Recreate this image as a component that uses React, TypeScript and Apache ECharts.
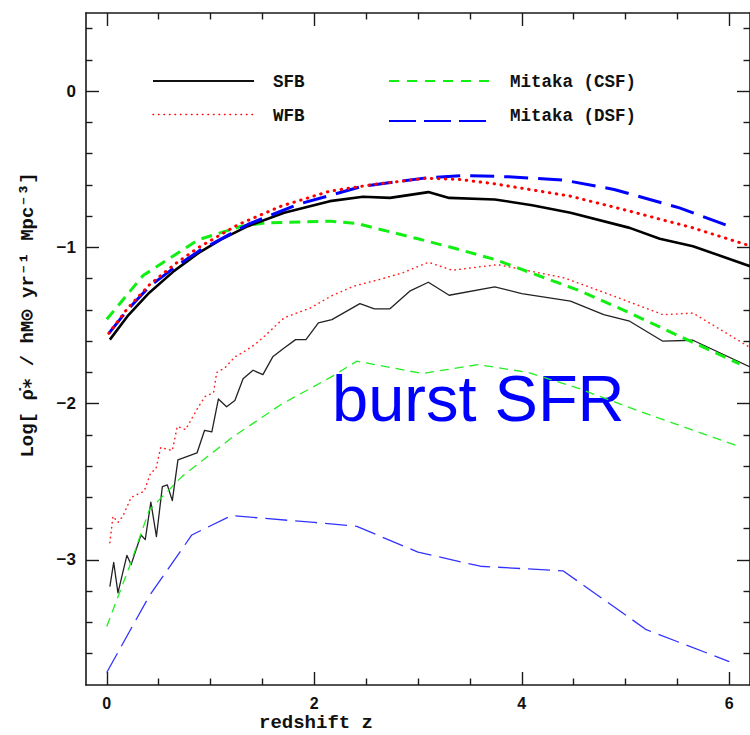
import React, { useEffect, useRef } from "react";
import * as echarts from "echarts";

// ---- tick values ----
const majorX = [0, 2, 4, 6];
const minorX = [0.5, 1, 1.5, 2.5, 3, 3.5, 4.5, 5, 5.5];
const majorY = [0, -1, -2, -3];
const minorY = [0.4, 0.2, -0.2, -0.4, -0.6, -0.8, -1.2, -1.4, -1.6, -1.8, -2.2, -2.4, -2.6, -2.8, -3.2, -3.4, -3.6];

// ---- total SFR (thick lines) ----
const sfbZ = [0.03, 0.2, 0.41, 0.65, 0.886, 1.1, 1.36, 1.71, 2.15, 2.47, 2.73, 3.1, 3.3, 3.74, 4.1, 4.47, 5.04, 5.33, 5.65, 6.2];
const sfbV = [-1.59, -1.44, -1.29, -1.15, -1.035, -0.95, -0.864, -0.778, -0.704, -0.676, -0.683, -0.646, -0.683, -0.693, -0.73, -0.778, -0.875, -0.945, -0.992, -1.12];

const wfbZ = [0.02, 0.2, 0.41, 0.65, 0.886, 1.27, 1.68, 2.15, 2.57, 3.08, 3.4, 3.74, 4.47, 5.04, 5.65, 6.2];
const wfbV = [-1.55, -1.39, -1.24, -1.11, -1.0, -0.853, -0.736, -0.64, -0.597, -0.557, -0.565, -0.593, -0.672, -0.768, -0.875, -0.99];

const dsfZ = [0.02, 0.2, 0.41, 0.65, 0.886, 1.36, 1.84, 2.47, 3.08, 3.46, 3.87, 4.41, 4.89, 5.52, 6.0];
const dsfV = [-1.55, -1.4, -1.25, -1.13, -1.024, -0.853, -0.725, -0.608, -0.555, -0.54, -0.548, -0.57, -0.629, -0.747, -0.864];

const csfZ = [0.0, 0.35, 0.886, 1.3, 1.52, 2.16, 2.41, 3.0, 3.3, 3.74, 4.09, 4.57, 5.04, 5.52, 6.1];
const csfV = [-1.46, -1.18, -0.95, -0.864, -0.843, -0.832, -0.847, -0.945, -0.996, -1.077, -1.163, -1.28, -1.419, -1.568, -1.745];

// ---- burst SFR (thin lines) ----
const sfbBurstZ = [0.03, 0.067, 0.108, 0.194, 0.235, 0.33, 0.371, 0.425, 0.479, 0.536, 0.584, 0.632, 0.686, 0.87, 0.943, 1.013, 1.076, 1.155, 1.235, 1.314, 1.41, 1.505, 1.6, 1.71, 1.82, 1.92, 2.04, 2.17, 2.44, 2.58, 2.73, 2.92, 3.1, 3.3, 3.74, 4.0, 4.47, 4.79, 5.04, 5.36, 5.65, 6.2];
const sfbBurstV = [-3.17, -3.015, -3.21, -2.97, -3.03, -2.84, -2.87, -2.63, -2.85, -2.53, -2.52, -2.62, -2.36, -2.315, -2.17, -2.18, -1.97, -2.02, -1.98, -1.84, -1.786, -1.814, -1.7, -1.643, -1.59, -1.59, -1.483, -1.462, -1.36, -1.393, -1.393, -1.28, -1.223, -1.306, -1.252, -1.295, -1.344, -1.43, -1.472, -1.6, -1.594, -1.765];

const wfbBurstZ = [0.03, 0.06, 0.108, 0.155, 0.235, 0.36, 0.425, 0.473, 0.52, 0.632, 0.68, 0.76, 0.886, 0.95, 1.029, 1.06, 1.14, 1.235, 1.33, 1.43, 1.52, 1.71, 1.965, 2.16, 2.38, 2.63, 2.85, 3.1, 3.33, 3.77, 4.41, 4.89, 5.36, 5.65, 6.2];
const wfbBurstV = [-2.89, -2.72, -2.76, -2.72, -2.6, -2.56, -2.44, -2.42, -2.28, -2.3, -2.145, -2.166, -2.017, -1.953, -1.93, -1.8, -1.77, -1.7, -1.665, -1.62, -1.568, -1.45, -1.387, -1.312, -1.248, -1.205, -1.163, -1.095, -1.146, -1.11, -1.195, -1.312, -1.43, -1.42, -1.64];

const csfBurstZ = [0.0, 0.22, 0.41, 0.727, 1.2, 1.68, 2.16, 2.41, 2.75, 3.04, 3.58, 4.06, 4.54, 5.14, 6.08];
const csfBurstV = [-3.425, -3.04, -2.68, -2.465, -2.22, -2.005, -1.83, -1.728, -1.77, -1.807, -1.75, -1.8, -1.9, -2.05, -2.27];

const dsfBurstZ = [0.0, 0.41, 0.82, 1.2, 2.0, 2.41, 3.0, 3.6, 4.4, 5.2, 6.0];
const dsfBurstV = [-3.72, -3.23, -2.84, -2.716, -2.76, -2.785, -2.95, -3.04, -3.07, -3.446, -3.65];

const legendNames = ["SFB", "WFB", "Mitaka (CSF)", "Mitaka (DSF)"];

const X_MIN = -0.2, X_MAX = 6.2, Y_MIN = -3.8, Y_MAX = 0.5;
const AXIS_COLOR = "#1a1a1a";
const MONO = "'Liberation Mono', 'DejaVu Sans Mono', monospace";

function line(name: string, zs: number[], vs: number[], color: string, width: number, dash: any, cap: string = "butt") {
  return {
    type: "line",
    name,
    data: zs.map((z, i) => [z, vs[i]]),
    showSymbol: false,
    symbol: "none",
    silent: true,
    xAxisIndex: 0,
    yAxisIndex: 0,
    lineStyle: { color, width, type: dash, cap, join: "round" },
  };
}

function xAx(position: string, ticks: number[], len: number, showLine: boolean, showLabel: boolean) {
  return {
    type: "value", min: X_MIN, max: X_MAX, position,
    axisLine: { show: showLine, onZero: false, lineStyle: { color: AXIS_COLOR, width: 1.6 } },
    axisTick: { show: true, inside: true, length: len, customValues: ticks, lineStyle: { color: AXIS_COLOR, width: 1.4 } },
    axisLabel: {
      show: showLabel, customValues: ticks, margin: 10,
      color: "#111", fontSize: 16, fontWeight: "bold", fontFamily: "'Liberation Sans', Arial, sans-serif",
    },
    splitLine: { show: false },
  };
}
function yAx(position: string, ticks: number[], len: number, showLine: boolean, showLabel: boolean) {
  return {
    type: "value", min: Y_MIN, max: Y_MAX, position,
    axisLine: { show: showLine, onZero: false, lineStyle: { color: AXIS_COLOR, width: 1.6 } },
    axisTick: { show: true, inside: true, length: len, customValues: ticks, lineStyle: { color: AXIS_COLOR, width: 1.4 } },
    axisLabel: {
      show: showLabel, customValues: ticks, margin: 10,
      color: "#111", fontSize: 17, fontWeight: "bold", fontFamily: "'Liberation Sans', Arial, sans-serif",
      formatter: (v: number) => (v === 0 ? "0" : "\u2212" + Math.abs(v)),
    },
    splitLine: { show: false },
  };
}

export default function App() {
  const ref = useRef<HTMLDivElement>(null);
  useEffect(() => {
    if (!ref.current) return;
    const chart = echarts.init(ref.current, null, { renderer: "svg" });
    chart.setOption({
      animation: false,
      backgroundColor: "#ffffff",
      grid: { left: 86, top: 13, right: -8, bottom: 50, containLabel: false },
      xAxis: [
        xAx("bottom", majorX, 13, true, true),
        xAx("bottom", minorX, 6.5, false, false),
        xAx("top", majorX, 13, true, false),
        xAx("top", minorX, 6.5, false, false),
      ],
      yAxis: [
        yAx("left", majorY, 13, true, true),
        yAx("left", minorY, 6.5, false, false),
        yAx("right", majorY, 13, true, false),
        yAx("right", minorY, 6.5, false, false),
      ],
      series: [
        line("SFB burst", sfbBurstZ, sfbBurstV, "#222222", 1.3, "solid"),
        line("WFB burst", wfbBurstZ, wfbBurstV, "#ff2020", 1.5, [0.5, 4.5], "round"),
        line("CSF burst", csfBurstZ, csfBurstV, "#22ee22", 1.3, [9, 6]),
        line("DSF burst", dsfBurstZ, dsfBurstV, "#3333ff", 1.3, [22, 8]),
        line(legendNames[2], csfZ, csfV, "#11ee11", 3, [11, 7]),
        line(legendNames[0], sfbZ, sfbV, "#000000", 2.6, "solid"),
        line(legendNames[3], dsfZ, dsfV, "#0000ff", 3, [24, 10]),
        line(legendNames[1], wfbZ, wfbV, "#ff0000", 3, [0.5, 6.5], "round"),
      ],
      graphic: [
        { type: "line", shape: { x1: 153, y1: 81, x2: 254, y2: 81 }, style: { stroke: "#111", lineWidth: 2 } },
        { type: "line", shape: { x1: 153, y1: 114.5, x2: 254, y2: 114.5 }, style: { stroke: "#ff0000", lineWidth: 1.5, lineDash: [0.5, 5], lineCap: "round" } },
        { type: "line", shape: { x1: 389, y1: 81, x2: 491, y2: 81 }, style: { stroke: "#11ee11", lineWidth: 2, lineDash: [10, 8] } },
        { type: "line", shape: { x1: 389, y1: 121, x2: 491, y2: 121 }, style: { stroke: "#0000ff", lineWidth: 2, lineDash: [27, 8] } },
        { type: "text", x: 273, y: 82, style: { text: legendNames[0], fill: "#111", font: `bold 17.5px ${MONO}`, verticalAlign: "middle" } },
        { type: "text", x: 273, y: 116, style: { text: legendNames[1], fill: "#111", font: `bold 17.5px ${MONO}`, verticalAlign: "middle" } },
        { type: "text", x: 510, y: 82, style: { text: legendNames[2], fill: "#111", font: `bold 17.5px ${MONO}`, verticalAlign: "middle" } },
        { type: "text", x: 510, y: 116, style: { text: legendNames[3], fill: "#111", font: `bold 17.5px ${MONO}`, verticalAlign: "middle" } },
        { type: "text", x: 332, y: 398, style: { text: "burst SFR", fill: "#0000ff", font: "65px 'Liberation Sans', Arial, sans-serif", verticalAlign: "middle" } },
        { type: "text", x: 316, y: 723, style: { text: "redshift z", fill: "#111", font: `bold 19px ${MONO}`, align: "center", verticalAlign: "middle" } },
        {
          type: "text", x: 28, y: 315, rotation: Math.PI / 2,
          style: { text: "Log[ \u03C1\u0307\u2217 / hM\u2299 yr\u207B\u00B9 Mpc\u207B\u00B3]", fill: "#111", font: `bold 19px ${MONO}`, align: "center", verticalAlign: "middle" },
        },
      ],
    });
    return () => chart.dispose();
  }, []);
  return (
    <div style={{ position: "absolute", left: 0, top: 0, width: 750, height: 735, overflow: "hidden", background: "#fff" }}>
      <div ref={ref} style={{ width: 750, height: 735 }} />
    </div>
  );
}
